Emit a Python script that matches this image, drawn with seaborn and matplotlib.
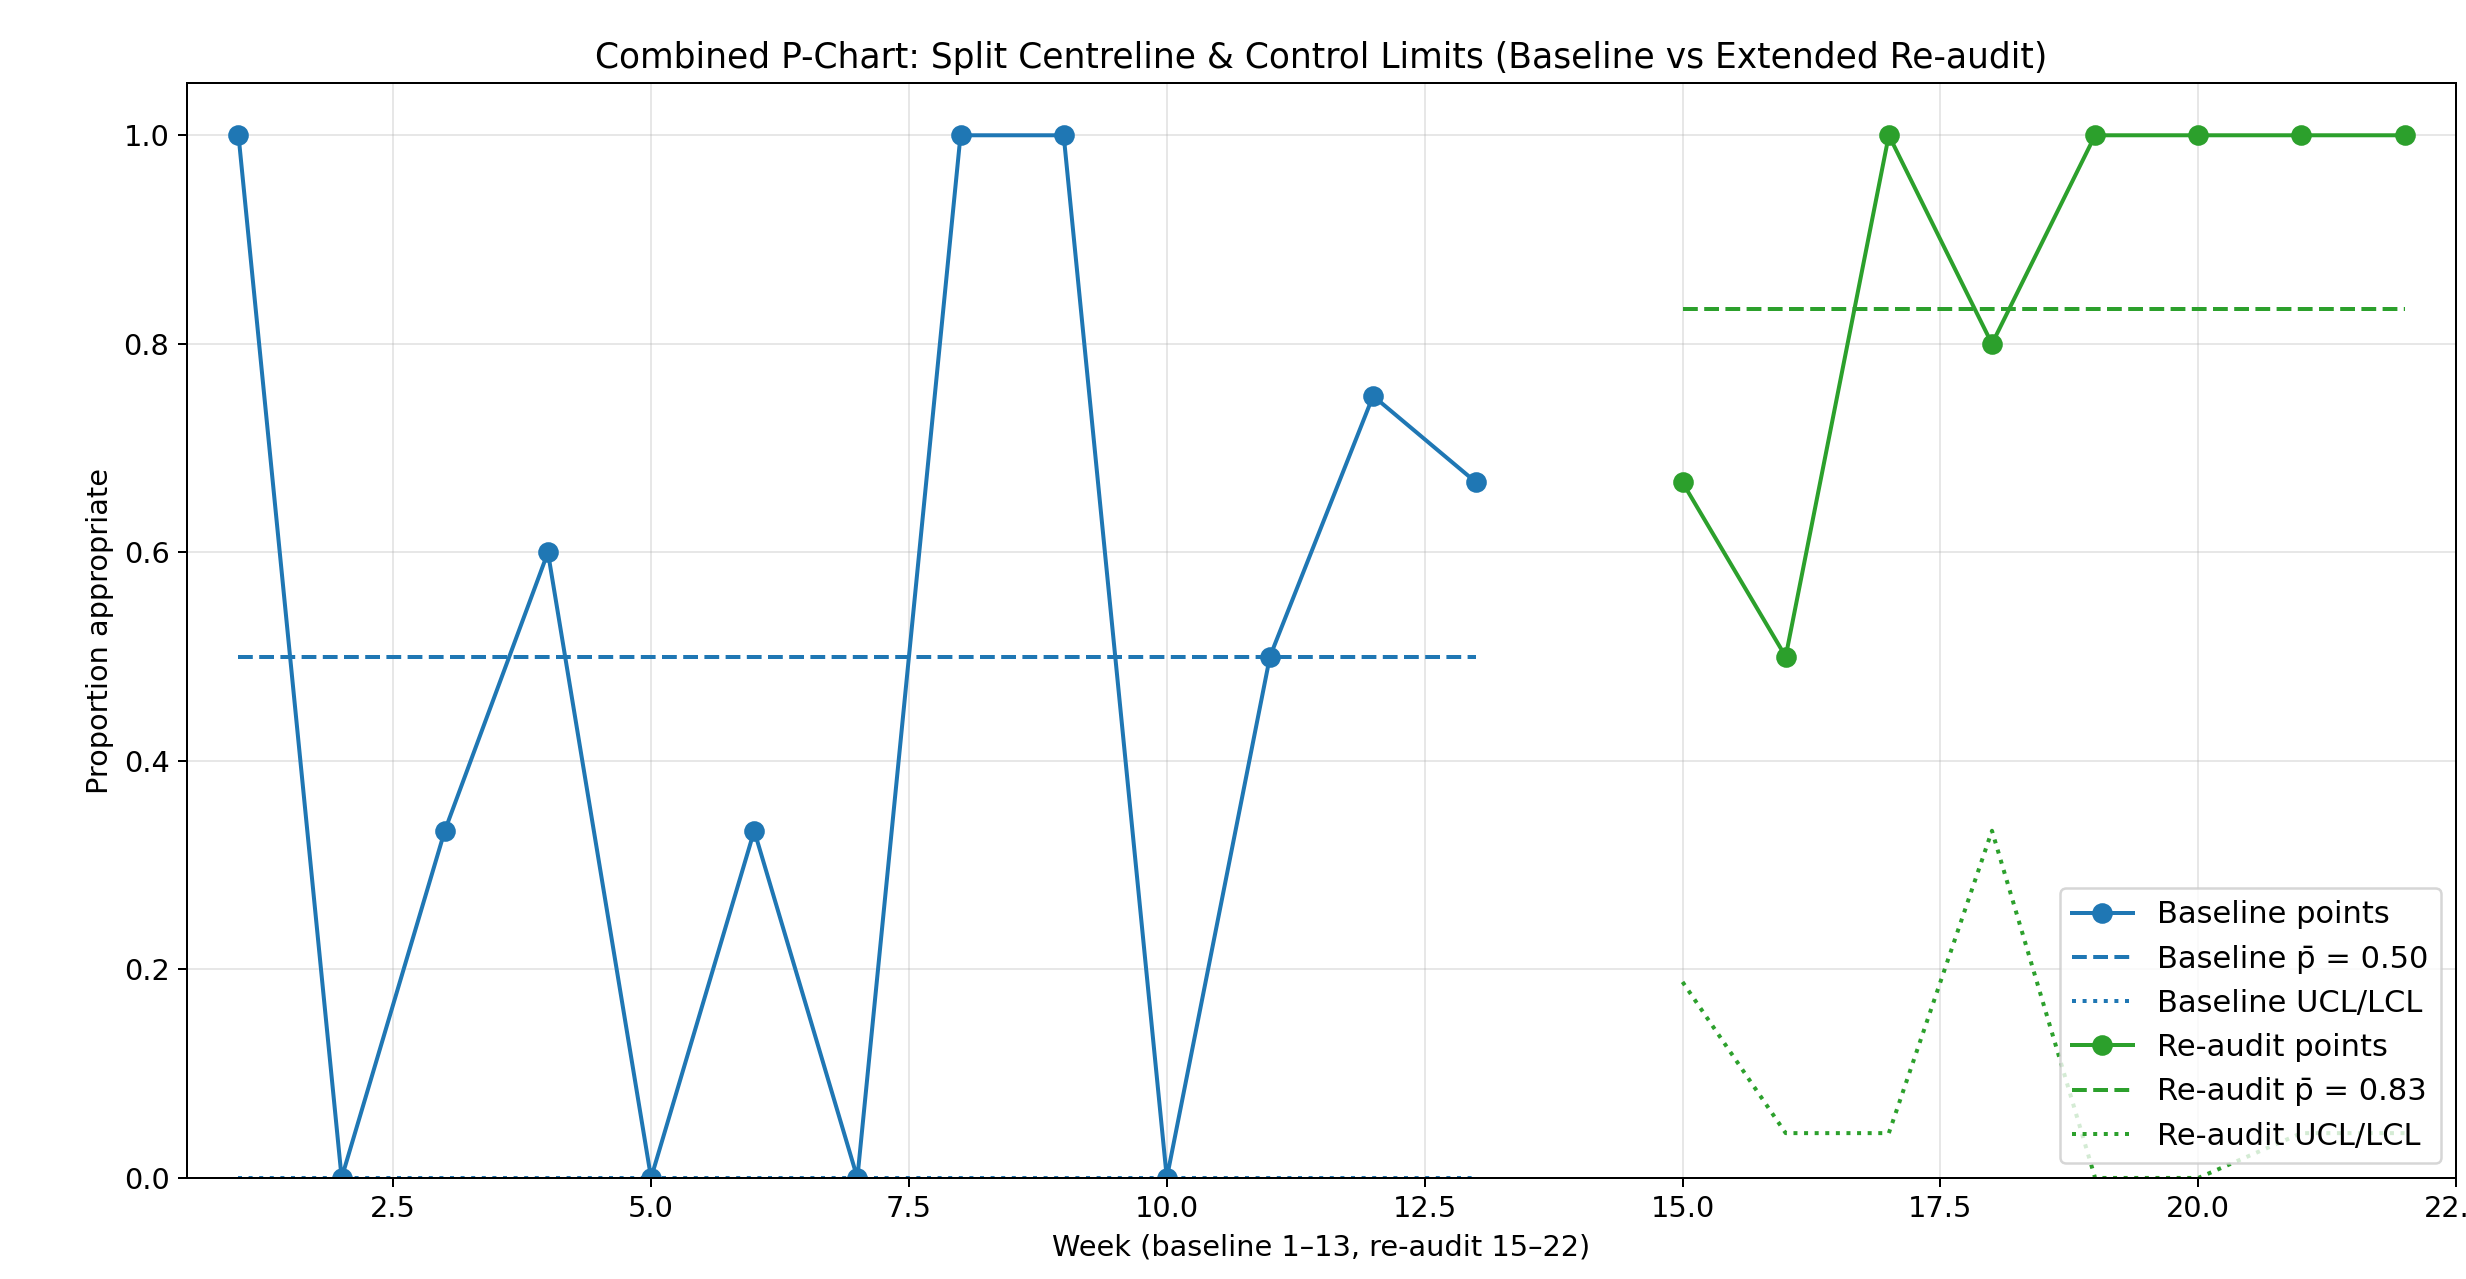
import matplotlib
matplotlib.use('Agg')
import matplotlib.pyplot as plt
import seaborn as sns

# Baseline weeks 1-13
weeks_base = [1, 2, 3, 4, 5, 6, 7, 8, 9, 10, 11, 12, 13]
p_base = [1.0, 0.0, 0.333, 0.6, 0.0, 0.333, 0.0, 1.0, 1.0, 0.0, 0.5, 0.75, 0.667]
pbar_base = 0.50
ucl_base = [2.0, 1.56, 1.37, 1.17, 1.56, 1.37, 1.56, 2.0, 2.0, 1.56, 1.56, 1.25, 1.37]
lcl_base = [0.0, 0.0, 0.0, 0.0, 0.0, 0.0, 0.0, 0.0, 0.0, 0.0, 0.0, 0.0, 0.0]

# Re-audit weeks 15-22
weeks_re = [15, 16, 17, 18, 19, 20, 21, 22]
p_re = [0.667, 0.5, 1.0, 0.8, 1.0, 1.0, 1.0, 1.0]
pbar_re = 0.833
ucl_re = [1.48, 1.62, 1.62, 1.33, 1.95, 1.95, 1.62, 1.62]
lcl_re = [0.188, 0.043, 0.043, 0.333, 0.0, 0.0, 0.043, 0.043]

blue = '#1f77b4'
green = '#2ca02c'

fig = plt.figure(figsize=(2466 / 180, 1279 / 180), dpi=180)
ax = fig.add_axes([0.0758, 0.079, 0.9202, 0.856])

# baseline
sns.lineplot(x=weeks_base, y=p_base, marker='o', color=blue, markeredgecolor=blue,
             markersize=7.5, linewidth=1.6, label='Baseline points', ax=ax)
sns.lineplot(x=weeks_base, y=[pbar_base] * len(weeks_base), color=blue, linestyle='--',
             linewidth=1.6, label='Baseline p\u0304 = 0.50', ax=ax)
sns.lineplot(x=weeks_base, y=lcl_base, color=blue, linestyle=':', linewidth=1.6,
             label='Baseline UCL/LCL', ax=ax)
sns.lineplot(x=weeks_base, y=ucl_base, color=blue, linestyle=':', linewidth=1.6,
             label='_nolegend_', ax=ax)

# re-audit
sns.lineplot(x=weeks_re, y=p_re, marker='o', color=green, markeredgecolor=green,
             markersize=7.5, linewidth=1.6, label='Re-audit points', ax=ax)
sns.lineplot(x=weeks_re, y=[pbar_re] * len(weeks_re), color=green, linestyle='--',
             linewidth=1.6, label='Re-audit p\u0304 = 0.83', ax=ax)
sns.lineplot(x=weeks_re, y=lcl_re, color=green, linestyle=':', linewidth=1.6,
             label='Re-audit UCL/LCL', ax=ax)
sns.lineplot(x=weeks_re, y=ucl_re, color=green, linestyle=':', linewidth=1.6,
             label='_nolegend_', ax=ax)

ax.set_xlim(0.5, 22.5)
ax.set_ylim(0, 1.05)
ax.set_xticks([2.5, 5.0, 7.5, 10.0, 12.5, 15.0, 17.5, 20.0, 22.5])
ax.set_title('Combined P-Chart: Split Centreline & Control Limits (Baseline vs Extended Re-audit)',
             fontsize=13.8)
ax.set_xlabel('Week (baseline 1\u201313, re-audit 15\u201322)', fontsize=11.5)
ax.set_ylabel('Proportion appropriate', fontsize=11.5)
ax.tick_params(labelsize=11.5)
ax.grid(True, alpha=0.3)
ax.legend(loc='lower right', fontsize=12.2)

fig.savefig('out.png', dpi=180)
